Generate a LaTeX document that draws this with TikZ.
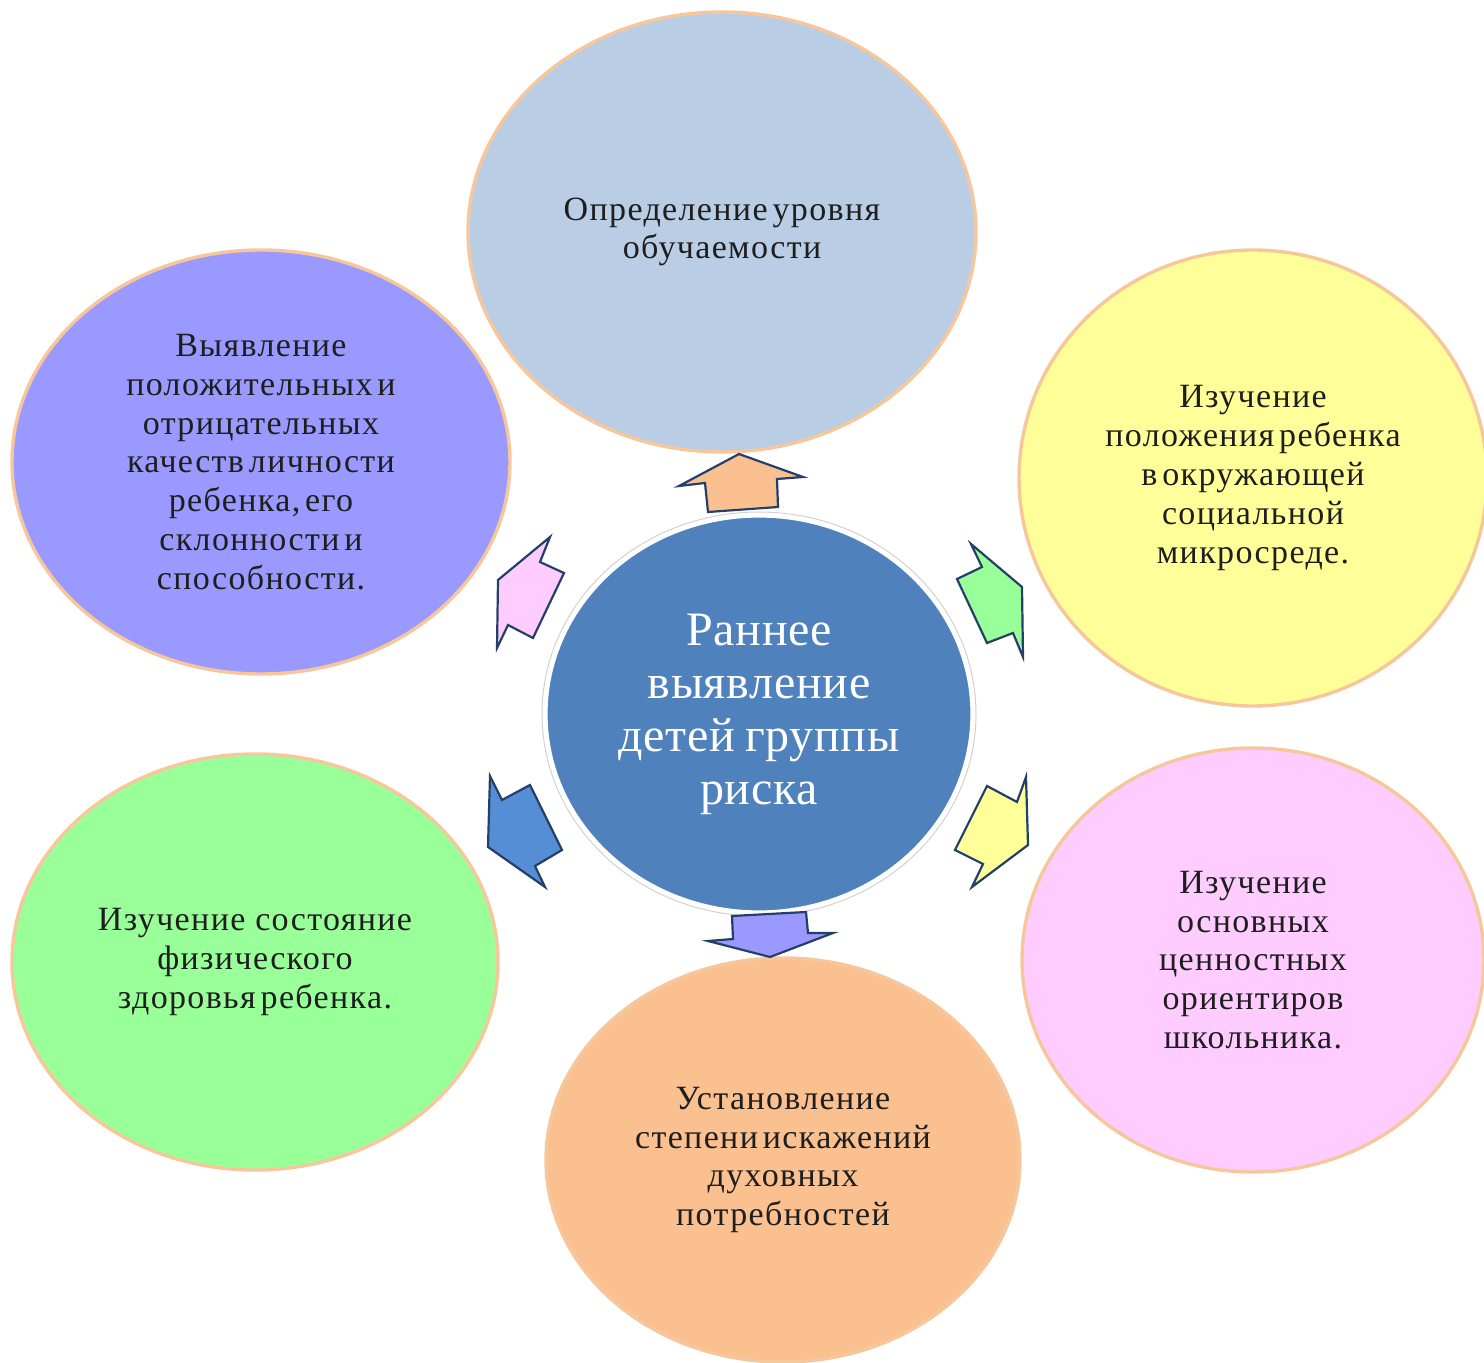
\documentclass[tikz,border=0pt]{standalone}
\usepackage{fontspec}
\setmainfont{Liberation Serif}
\newfontfamily\bodyfont[LetterSpace=4,WordSpace=0.5]{Liberation Serif}
\newfontfamily\centerfont[LetterSpace=1.5,WordSpace=0.8]{Liberation Serif}
\usetikzlibrary{shapes.geometric}
\definecolor{rim}{HTML}{F7C79C}
\definecolor{txt}{HTML}{1E1E1E}
\definecolor{cblue}{HTML}{4F81BD}
\definecolor{csteel}{HTML}{B9CDE5}
\definecolor{cpurple}{HTML}{9999FF}
\definecolor{cyellow}{HTML}{FFFF99}
\definecolor{cgreen}{HTML}{99FF99}
\definecolor{corange}{HTML}{FAC090}
\definecolor{cpink}{HTML}{FFCCFF}
\definecolor{arrowline}{HTML}{24406A}
\definecolor{ablue}{HTML}{558ED5}
\definecolor{agreen}{HTML}{99FF99}
\begin{document}
\begin{tikzpicture}[x=0.5pt,y=-0.5pt,
  bubble/.style={ellipse, draw=rim, line width=1.7pt, inner sep=0pt, align=center,
    text=txt, font=\bodyfont\fontsize{17}{19.4}\selectfont},
  hub/.style={ellipse, fill=cblue, draw=white, line width=2.6pt, inner sep=0pt, align=center,
    text=white, font=\centerfont\fontsize{24}{26.5}\selectfont},
  blockarrow/.style={draw=arrowline, line width=1.1pt, line join=miter}]
\useasboundingbox (0,0) rectangle (1484,1363);

% outer bubbles
\node[bubble, fill=csteel, minimum width=254pt, minimum height=220pt] (top) at (722,232)
  {Определение уровня\\обучаемости};
\node[bubble, fill=cpurple, minimum width=249pt, minimum height=212pt] (lt) at (261,462)
  {Выявление\\положительных и\\отрицательных\\качеств личности\\ребенка, его\\склонности и\\способности.};
\node[bubble, fill=cyellow, minimum width=234pt, minimum height=228pt] (rt) at (1253,478)
  {Изучение\\положения ребенка\\в окружающей\\социальной\\микросреде.};
\node[bubble, fill=cgreen, minimum width=243pt, minimum height=208pt] (lb) at (255,962)
  {Изучение\ \ состояние\\физического\\здоровья ребенка.};
\node[bubble, fill=corange, minimum width=237pt, minimum height=202pt] (bot) at (783,1160)
  {Установление\\степени искажений\\духовных\\потребностей};
\node[bubble, fill=cpink, minimum width=231pt, minimum height=212pt] (rb) at (1253,960)
  {Изучение\\основных\\ценностных\\ориентиров\\школьника.};

% hub
\node[hub, minimum width=214pt, minimum height=199pt] (hub) at (759,714)
  {Раннее\\выявление\\детей группы\\риска};
\draw[gray!35, line width=0.5pt] (hub.center) ellipse [x radius=217, y radius=202];

% block arrows
\draw[blockarrow, fill=corange] (739,454) -- (679,486) -- (705,483) -- (708,512) -- (778,507) -- (777,479) -- (803,477) -- cycle;
\draw[blockarrow, fill=cpink] (550,537) -- (540,562) -- (564,573) -- (533,638) -- (508,625) -- (497,648) -- (498,580) -- cycle;
\draw[blockarrow, fill=agreen] (971,544) -- (982,567) -- (957,579) -- (987,643) -- (1013,633) -- (1023,657) -- (1022,587) -- cycle;
\draw[blockarrow, fill=ablue] (490,776) -- (502,800) -- (530,785) -- (562,850) -- (535,866) -- (545,887) -- (488,847) -- cycle;
\draw[blockarrow, fill=cyellow] (1026,777) -- (1017,802) -- (987,786) -- (955,850) -- (983,864) -- (972,887) -- (1028,845) -- cycle;
\draw[blockarrow, fill=cpurple] (732,916) -- (733,939) -- (708,941) -- (770,957) -- (833,933) -- (808,933) -- (806,912) -- cycle;
\end{tikzpicture}
\end{document}
